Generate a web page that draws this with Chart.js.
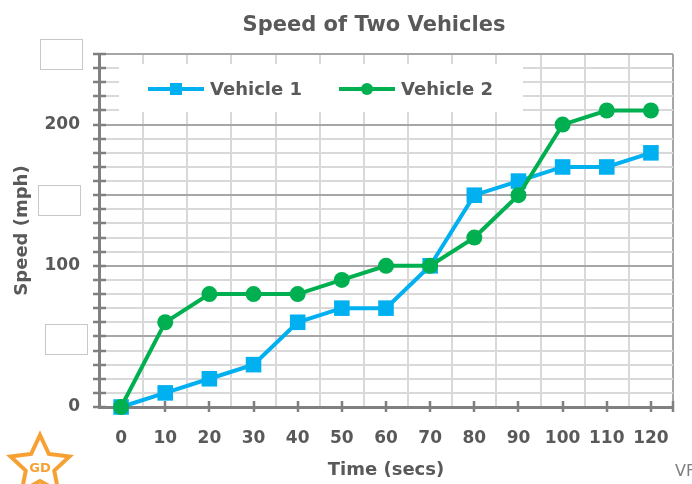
<!DOCTYPE html>
<html lang="en">
<head>
    <meta charset="UTF-8">
    <title>Speed of Two Vehicles</title>
    <script src="https://cdn.jsdelivr.net/npm/chart.js"></script>
    <style>
        html, body { margin: 0; padding: 0; background: #fff; }
        #wrap { width: 692px; height: 484px; }
    </style>
</head>
<body>
<div id="wrap"><canvas id="speed-chart" width="692" height="484"></canvas></div>

<script>
    // data
    const times = ['0', '10', '20', '30', '40', '50', '60', '70', '80', '90', '100', '110', '120'];
    const vehicle1 = [0, 10, 20, 30, 60, 70, 70, 100, 150, 160, 170, 170, 180];
    const vehicle2 = [0, 60, 80, 80, 80, 90, 100, 100, 120, 150, 200, 210, 210];
    const labelledSpeeds = [0, 100, 200];
    const speedMax = 250;
    const speedStep = 10;

    const FONT = '"DejaVu Sans", sans-serif';
    const TEXT = '#595959';
    const AXIS = '#808080';

    // label boxes covering the 50 / 150 / 250 labels
    const coverBoxes = [[40, 39], [38, 185], [45, 324]];

    const decor = {
        id: 'decor',
        beforeDatasetsDraw(chart) {
            const ctx = chart.ctx;
            const x = chart.scales.x, y = chart.scales.y;
            ctx.save();
            // tick marks crossing the axes
            ctx.strokeStyle = AXIS;
            ctx.lineWidth = 2.5;
            ctx.beginPath();
            for (let v = 0; v <= speedMax; v += speedStep) {
                const py = Math.round(y.getPixelForValue(v));
                ctx.moveTo(x.left - 6, py);
                ctx.lineTo(x.left + 7, py);
            }
            times.forEach((t, i) => {
                const px = Math.round(x.getPixelForTick(i));
                ctx.moveTo(px, y.bottom - 6);
                ctx.lineTo(px, y.bottom + 5);
            });
            ctx.moveTo(x.right, y.bottom - 6);
            ctx.lineTo(x.right, y.bottom + 5);
            ctx.stroke();

            // legend box inside the plot
            const bx = x.left + 20, by = y.top + 10;
            ctx.fillStyle = '#fff';
            ctx.fillRect(bx, by, 404, 48);
            const cy = by + 25;
            const items = [[bx + 29, chart.data.datasets[0]], [bx + 220, chart.data.datasets[1]]];
            ctx.font = 'bold 18px ' + FONT;
            ctx.textBaseline = 'middle';
            items.forEach(([lx, ds]) => {
                ctx.strokeStyle = ds.borderColor;
                ctx.lineWidth = 4;
                ctx.beginPath();
                ctx.moveTo(lx, cy);
                ctx.lineTo(lx + 56, cy);
                ctx.stroke();
                ctx.fillStyle = ds.borderColor;
                if (ds.pointStyle === 'rect') {
                    ctx.fillRect(lx + 22, cy - 6, 12, 12);
                } else {
                    ctx.beginPath();
                    ctx.arc(lx + 28, cy, 6, 0, Math.PI * 2);
                    ctx.fill();
                }
                ctx.fillStyle = TEXT;
                ctx.fillText(ds.label, lx + 62, cy + 1);
            });
            ctx.restore();
        },
        afterDraw(chart) {
            const ctx = chart.ctx;
            ctx.save();
            // title
            ctx.fillStyle = TEXT;
            ctx.font = 'bold 21px ' + FONT;
            ctx.textAlign = 'center';
            ctx.textBaseline = 'middle';
            ctx.fillText('Speed of Two Vehicles', 374, 26);

            // blank label boxes
            ctx.fillStyle = '#fff';
            ctx.strokeStyle = '#c8c8c8';
            ctx.lineWidth = 1;
            coverBoxes.forEach(([bx, by]) => {
                ctx.fillRect(bx, by, 42, 30);
                ctx.strokeRect(bx + 0.5, by + 0.5, 42, 30);
            });

            // star logo
            const sx = 40, sy = 466, R = 31, r = 15;
            ctx.beginPath();
            for (let k = 0; k < 10; k++) {
                const a = -Math.PI / 2 + k * Math.PI / 5;
                const rr = k % 2 ? r : R;
                ctx.lineTo(sx + rr * Math.cos(a), sy + rr * Math.sin(a));
            }
            ctx.closePath();
            ctx.strokeStyle = '#f7a033';
            ctx.lineWidth = 4;
            ctx.stroke();
            ctx.fillStyle = '#f7a033';
            ctx.font = 'bold 13px ' + FONT;
            ctx.fillText('GD', 40, 469);

            ctx.fillStyle = '#7f7f7f';
            ctx.font = '16px ' + FONT;
            ctx.textAlign = 'left';
            ctx.fillText('VF', 675, 472);
            ctx.restore();
        }
    };

    new Chart(document.getElementById('speed-chart'), {
        type: 'line',
        data: {
            labels: times,
            datasets: [{
                label: 'Vehicle 1',
                data: vehicle1,
                borderColor: '#00b0f0',
                backgroundColor: '#00b0f0',
                borderWidth: 4,
                pointStyle: 'rect',
                pointRadius: 11,
                pointHoverRadius: 11,
                pointBorderWidth: 0,
                order: 1,
                clip: false
            }, {
                label: 'Vehicle 2',
                data: vehicle2,
                borderColor: '#00b050',
                backgroundColor: '#00b050',
                borderWidth: 4,
                pointStyle: 'circle',
                pointRadius: 8,
                pointHoverRadius: 8,
                pointBorderWidth: 0,
                order: 0,
                clip: false
            }]
        },
        options: {
            responsive: false,
            animation: false,
            layout: { padding: { top: 54, right: 19, left: 0, bottom: 0 } },
            plugins: {
                legend: { display: false },
                title: { display: false },
                tooltip: { enabled: false }
            },
            scales: {
                x: {
                    type: 'category',
                    offset: true,
                    grid: {
                        offset: true,
                        drawTicks: false,
                        lineWidth: 2,
                        color: c => c.type === 'tick' ? '#d9d9d9' : '#a6a6a6'
                    },
                    border: { color: AXIS, width: 3 },
                    ticks: {
                        color: TEXT,
                        font: { family: FONT, size: 17, weight: 'bold' },
                        padding: 21,
                        maxRotation: 0,
                        autoSkip: false
                    },
                    title: {
                        display: true,
                        text: 'Time (secs)',
                        color: TEXT,
                        font: { family: FONT, size: 18, weight: 'bold' },
                        padding: { top: 0, bottom: 3 }
                    },
                    afterFit: s => { s.height = 77; }
                },
                y: {
                    min: 0,
                    max: speedMax,
                    grid: {
                        drawTicks: false,
                        lineWidth: 2,
                        color: c => c.tick.value % 50 === 0 ? '#a6a6a6' : '#d9d9d9'
                    },
                    border: { color: AXIS, width: 3 },
                    ticks: {
                        stepSize: speedStep,
                        autoSkip: false,
                        color: TEXT,
                        font: { family: FONT, size: 17, weight: 'bold' },
                        padding: 19,
                        callback: v => labelledSpeeds.includes(v) ? v : ''
                    },
                    title: {
                        display: true,
                        text: 'Speed (mph)',
                        color: TEXT,
                        font: { family: FONT, size: 18, weight: 'bold' },
                        padding: { top: 12, bottom: 0 }
                    },
                    afterFit: s => { s.width = 99; }
                }
            }
        },
        plugins: [decor]
    });
</script>
</body>
</html>
